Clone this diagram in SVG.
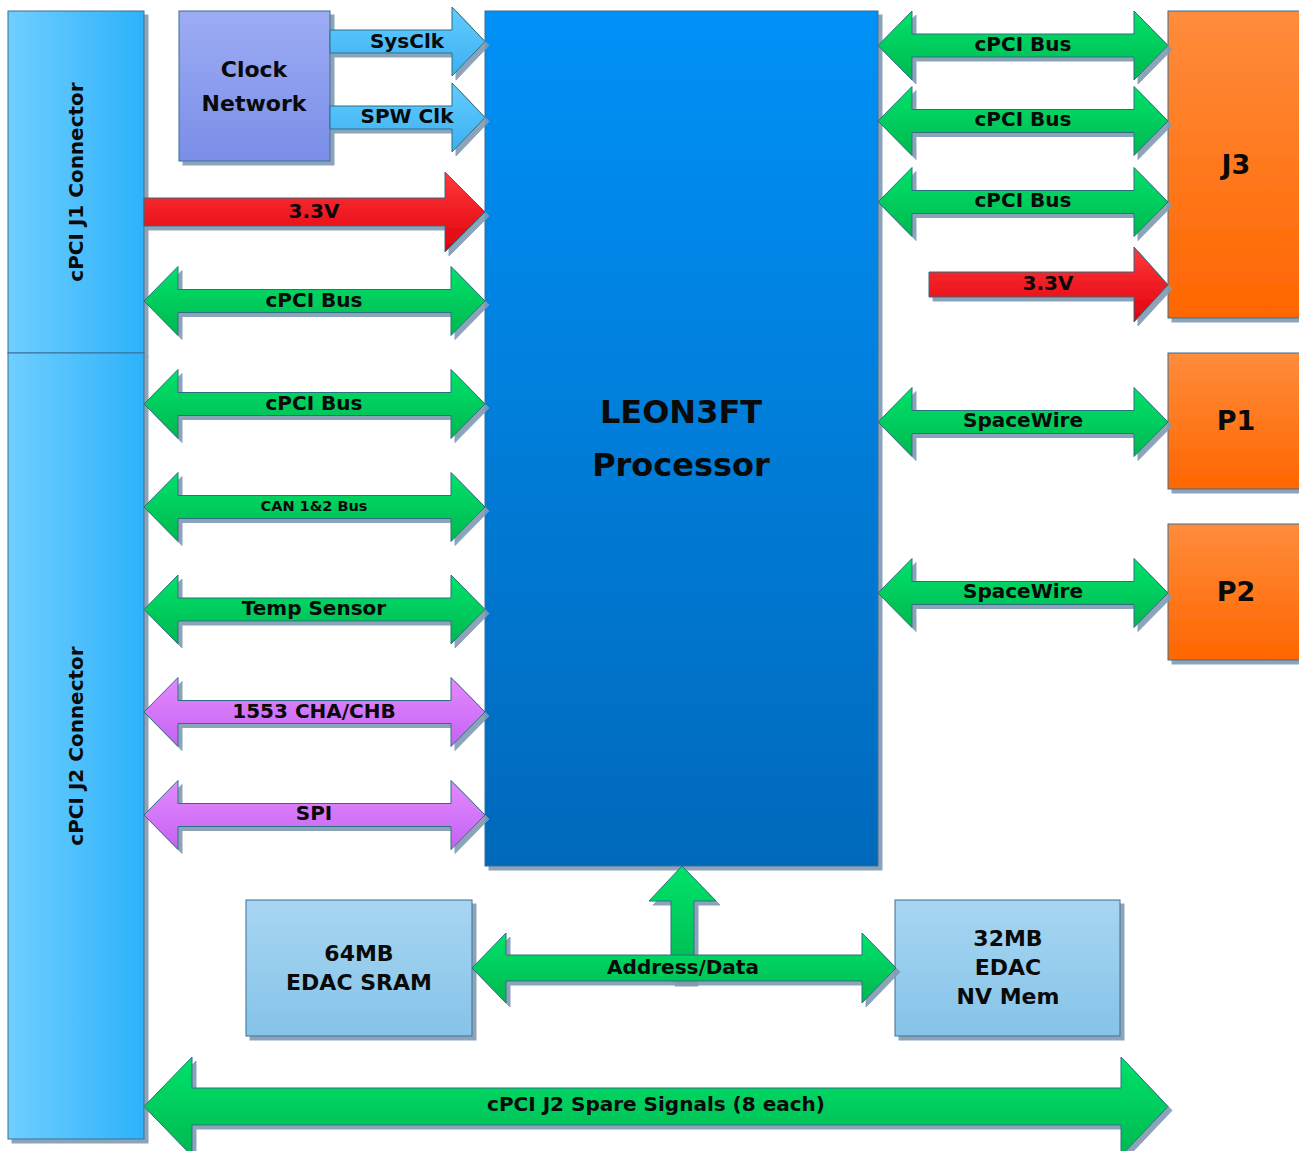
<svg xmlns="http://www.w3.org/2000/svg" width="1299" height="1151" viewBox="0 0 1299 1151">
<defs>
<filter id="sh" filterUnits="userSpaceOnUse" x="0" y="0" width="1299" height="1151">
<feOffset in="SourceAlpha" dx="4" dy="4" result="o"/>
<feFlood flood-color="#7f9bb3" flood-opacity="0.9"/>
<feComposite in2="o" operator="in" result="s"/>
<feMerge><feMergeNode in="s"/><feMergeNode in="SourceGraphic"/></feMerge>
</filter>
<linearGradient id="gConn" x1="0" y1="0" x2="1" y2="0"><stop offset="0" stop-color="#70ceff"/><stop offset="1" stop-color="#2db2fa"/></linearGradient>
<linearGradient id="gClock" x1="0" y1="0" x2="0" y2="1"><stop offset="0" stop-color="#9dacf4"/><stop offset="1" stop-color="#7a8ee8"/></linearGradient>
<linearGradient id="gLeon" x1="0" y1="0" x2="0" y2="1"><stop offset="0" stop-color="#0091f7"/><stop offset="1" stop-color="#0069bb"/></linearGradient>
<linearGradient id="gOr" x1="0" y1="0" x2="0" y2="1"><stop offset="0" stop-color="#ff8c3c"/><stop offset="1" stop-color="#ff6600"/></linearGradient>
<linearGradient id="gMem" x1="0" y1="0" x2="0" y2="1"><stop offset="0" stop-color="#a7d6f2"/><stop offset="1" stop-color="#86c3e8"/></linearGradient>
<linearGradient id="gGreen" x1="0" y1="0" x2="0" y2="1"><stop offset="0" stop-color="#00e26a"/><stop offset="1" stop-color="#00b850"/></linearGradient>
<linearGradient id="gRed" x1="0" y1="0" x2="0" y2="1"><stop offset="0" stop-color="#ff3a3a"/><stop offset="1" stop-color="#e0000e"/></linearGradient>
<linearGradient id="gPurple" x1="0" y1="0" x2="0" y2="1"><stop offset="0" stop-color="#e48aff"/><stop offset="1" stop-color="#c462f2"/></linearGradient>
<linearGradient id="gSky" x1="0" y1="0" x2="0" y2="1"><stop offset="0" stop-color="#62ccff"/><stop offset="1" stop-color="#3cb0f2"/></linearGradient>
</defs>
<style>
.box{stroke:#3a6f96;stroke-width:1;filter:url(#sh)}
.arr{stroke:#2a6f80;stroke-width:1;filter:url(#sh)}
.green{fill:url(#gGreen)}
.red{fill:url(#gRed)}
.purple{fill:url(#gPurple)}
.sky{fill:url(#gSky)}
text{font-family:"DejaVu Sans","Liberation Sans",sans-serif;font-weight:bold;fill:#0a0a0a;text-anchor:middle;dominant-baseline:central}
.lbl{font-size:20px}
.sm{font-size:14.5px}
.big{font-size:32px}
.mem{font-size:22px}
.jp{font-size:27px}
</style>
<rect width="1299" height="1151" fill="#ffffff"/>

<g id="j1">
<rect class="box" x="8" y="11" width="136" height="342" fill="url(#gConn)"/>
<text class="lbl" transform="translate(76 182) rotate(-90)">cPCI J1 Connector</text>
</g>
<g id="j2">
<rect class="box" x="8" y="353" width="136" height="786" fill="url(#gConn)"/>
<text class="lbl" transform="translate(76 746) rotate(-90)">cPCI J2 Connector</text>
</g>
<g id="clock">
<rect class="box" x="179" y="11" width="151" height="150" fill="url(#gClock)"/>
<text class="mem" x="254" y="69">Clock</text>
<text class="mem" x="254" y="103">Network</text>
</g>
<g id="leon">
<rect class="box" x="485" y="11" width="393" height="855" fill="url(#gLeon)"/>
<text class="big" x="681" y="412">LEON3FT</text>
<text class="big" x="681" y="465">Processor</text>
</g>
<g id="j3">
<rect class="box" x="1168" y="11" width="140" height="307" fill="url(#gOr)"/>
<text class="jp" x="1236" y="164">J3</text>
</g>
<g id="p1">
<rect class="box" x="1168" y="353" width="140" height="136" fill="url(#gOr)"/>
<text class="jp" x="1236" y="420">P1</text>
</g>
<g id="p2">
<rect class="box" x="1168" y="524" width="140" height="136" fill="url(#gOr)"/>
<text class="jp" x="1236" y="591">P2</text>
</g>
<g id="sram">
<rect class="box" x="246" y="900" width="226" height="136" fill="url(#gMem)"/>
<text class="mem" x="359" y="953">64MB</text>
<text class="mem" x="359" y="982">EDAC SRAM</text>
</g>
<g id="nvmem">
<rect class="box" x="895" y="900" width="225" height="136" fill="url(#gMem)"/>
<text class="mem" x="1008" y="938">32MB</text>
<text class="mem" x="1008" y="967">EDAC</text>
<text class="mem" x="1008" y="996">NV Mem</text>
</g>

<g id="connectors">
<path class="arr sky" d="M330 30 L452 30 L452 7 L485 41.5 L452 76 L452 53 L330 53 Z"/>
<text class="lbl" x="407" y="41">SysClk</text>
<path class="arr sky" d="M330 106 L452 106 L452 83 L485 117.5 L452 152 L452 129 L330 129 Z"/>
<text class="lbl" x="407" y="116">SPW Clk</text>
<path class="arr red" d="M144 198 L445 198 L445 172 L485 212 L445 252 L445 226 L144 226 Z"/>
<text class="lbl" x="314" y="211">3.3V</text>
<path class="arr green" d="M144 301 L178 266.5 L178 289.5 L451 289.5 L451 266.5 L485 301 L451 335.5 L451 312.5 L178 312.5 L178 335.5 Z"/>
<text class="lbl" x="314" y="300">cPCI Bus</text>
<path class="arr green" d="M144 404 L178 369.5 L178 392.5 L451 392.5 L451 369.5 L485 404 L451 438.5 L451 415.5 L178 415.5 L178 438.5 Z"/>
<text class="lbl" x="314" y="403">cPCI Bus</text>
<path class="arr green" d="M144 507 L178 472.5 L178 495.5 L451 495.5 L451 472.5 L485 507 L451 541.5 L451 518.5 L178 518.5 L178 541.5 Z"/>
<text class="sm" x="314" y="506">CAN 1&amp;2 Bus</text>
<path class="arr green" d="M144 609.5 L178 575 L178 598 L451 598 L451 575 L485 609.5 L451 644 L451 621 L178 621 L178 644 Z"/>
<text class="lbl" x="314" y="608">Temp Sensor</text>
<path class="arr purple" d="M144 712 L178 677.5 L178 700.5 L451 700.5 L451 677.5 L485 712 L451 746.5 L451 723.5 L178 723.5 L178 746.5 Z"/>
<text class="lbl" x="314" y="711">1553 CHA/CHB</text>
<path class="arr purple" d="M144 815 L178 780.5 L178 803.5 L451 803.5 L451 780.5 L485 815 L451 849.5 L451 826.5 L178 826.5 L178 849.5 Z"/>
<text class="lbl" x="314" y="813">SPI</text>
<path class="arr green" d="M878 45.5 L912 11 L912 34 L1134 34 L1134 11 L1168 45.5 L1134 80 L1134 57 L912 57 L912 80 Z"/>
<text class="lbl" x="1023" y="44">cPCI Bus</text>
<path class="arr green" d="M878 121 L912 86.5 L912 109.5 L1134 109.5 L1134 86.5 L1168 121 L1134 155.5 L1134 132.5 L912 132.5 L912 155.5 Z"/>
<text class="lbl" x="1023" y="119">cPCI Bus</text>
<path class="arr green" d="M878 202 L912 167.5 L912 190.5 L1134 190.5 L1134 167.5 L1168 202 L1134 236.5 L1134 213.5 L912 213.5 L912 236.5 Z"/>
<text class="lbl" x="1023" y="200">cPCI Bus</text>
<path class="arr red" d="M929 272 L1134 272 L1134 247 L1168 285 L1134 322 L1134 297 L929 297 Z"/>
<text class="lbl" x="1048" y="283">3.3V</text>
<path class="arr green" d="M878 422 L912 387.5 L912 410.5 L1134 410.5 L1134 387.5 L1168 422 L1134 456.5 L1134 433.5 L912 433.5 L912 456.5 Z"/>
<text class="lbl" x="1023" y="420">SpaceWire</text>
<path class="arr green" d="M878 593 L912 558.5 L912 581.5 L1134 581.5 L1134 558.5 L1168 593 L1134 627.5 L1134 604.5 L912 604.5 L912 627.5 Z"/>
<text class="lbl" x="1023" y="591">SpaceWire</text>
<path class="arr green" d="M671 982 L671 901 L649 901 L682 866 L716 901 L694 901 L694 982 Z"/>
<path class="arr green" d="M472 968 L506 933 L506 955 L862 955 L862 933 L896 968 L862 1003 L862 981 L506 981 L506 1003 Z"/>
<text class="lbl" x="683" y="967">Address/Data</text>
<path class="arr green" d="M144 1106.5 L192 1057 L192 1088 L1121 1088 L1121 1057 L1168 1106.5 L1121 1156 L1121 1125 L192 1125 L192 1156 Z"/>
<text class="lbl" x="656" y="1104">cPCI J2 Spare Signals (8 each)</text>
</g>
</svg>
